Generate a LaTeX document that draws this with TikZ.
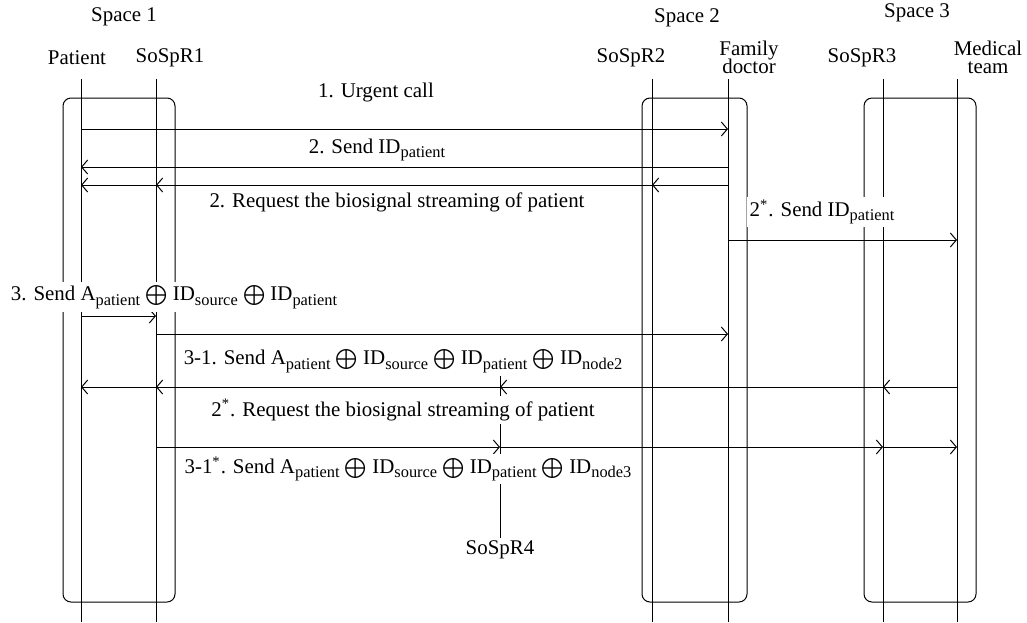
\documentclass[tikz,border=0pt]{standalone}
\usepackage{fontspec}
\setmainfont{Liberation Serif}
\usetikzlibrary{arrows.meta}

\newcommand{\lowtext}[1]{\raisebox{-2.3pt}{\fontsize{8.2}{8.2}\selectfont #1}}
\newcommand{\IDsub}[1]{ID\lowtext{#1}}
\newcommand{\opl}{$\bigoplus$}

\begin{document}
\begin{tikzpicture}[x=0.5pt, y=-0.5pt, line width=0.5pt,
    font=\fontsize{10.45}{12.5}\selectfont,
    spacebox/.style={draw, rounded corners=4pt, minimum width=#1, minimum height=252pt, inner sep=0pt},
    head/.style={align=center, inner sep=1pt},
    msg/.style={-{Straight Barb[length=3pt,width=7pt]}},
    msglabel/.style={fill=white, inner sep=1.5pt}]
    \useasboundingbox (0,0) rectangle (1027,622);

    % the three spaces
    \node[spacebox=56pt] (box1) at (119,350) {};
    \node[spacebox=52.5pt] (box2) at (694.5,350) {};
    \node[spacebox=56pt] (box3) at (920,350) {};
    \node (space1) at (124,17) {Space 1};
    \node (space2) at (687,18) {Space 2};
    \node (space3) at (917,13) {Space 3};

    % participants
    \node[head] (patient) at (77,58) {Patient};
    \node[head] (sospr1) at (170,58) {SoSpR1};
    \node[head] (sospr2) at (631,58) {SoSpR2};
    \node[head] (doctor) at (749,57) {Family\\[-3.5pt]doctor};
    \node[head] (sospr3) at (862,58) {SoSpR3};
    \node[head] (medteam) at (988,57) {Medical\\[-3.5pt]team};
    \node[head] (sospr4) at (500,550) {SoSpR4};

    % lifelines
    \coordinate (P) at (81,79);
    \coordinate (R1) at (156,79);
    \coordinate (R2) at (652,79);
    \coordinate (FD) at (728,79);
    \coordinate (R3) at (883,79);
    \coordinate (MT) at (957,79);
    \coordinate (R4) at (500,373);
    \draw (P) -- (81,622);
    \draw (R1) -- (156,622);
    \draw (R2) -- (652,622);
    \draw (FD) -- (728,622);
    \draw (R3) -- (883,622);
    \draw (MT) -- (957,622);
    \draw (R4) -- (sospr4.north);

    % message rows
    \coordinate (m1) at (0,129);
    \coordinate (m2) at (0,167);
    \coordinate (m3) at (0,185);
    \coordinate (m4) at (0,240);
    \coordinate (m5) at (0,316);
    \coordinate (m6) at (0,334);
    \coordinate (m7) at (0,387);
    \coordinate (m8) at (0,447);

    \draw[msg] (P |- m1) -- (FD |- m1);
    \draw[msg] (FD |- m2) -- (P |- m2);
    \draw[msg] (FD |- m3) -- (R2 |- m3);
    \draw[msg] (R2 |- m3) -- (R1 |- m3);
    \draw[msg] (R1 |- m3) -- (P |- m3);
    \draw[msg] (FD |- m4) -- (MT |- m4);
    \draw[msg] (P |- m5) -- (R1 |- m5);
    \draw[msg] (R1 |- m6) -- (FD |- m6);
    \draw[msg] (MT |- m7) -- (R3 |- m7);
    \draw[msg] (R3 |- m7) -- (R4 |- m7);
    \draw[msg] (R4 |- m7) -- (R1 |- m7);
    \draw[msg] (R1 |- m7) -- (P |- m7);
    \draw[msg] (R1 |- m8) -- (R4 |- m8);
    \draw[msg] (R4 |- m8) -- (R3 |- m8);
    \draw[msg] (R3 |- m8) -- (MT |- m8);

    % message labels
    \node[msglabel] (call) at (376,92) {1. Urgent call};
    \node[msglabel] (sendid) at (377,150) {2. Send \IDsub{patient}};
    \node[msglabel] (request) at (397,202) {2. Request the biosignal streaming of patient};
    \node[msglabel] (sendidstar) at (822,212) {2\textsuperscript{*}. Send \IDsub{patient}};
    \node[msglabel] (sendA) at (174,297) {3. Send A\lowtext{patient} \opl{} \IDsub{source} \opl{} \IDsub{patient}};
    \node[msglabel] (send31) at (403,361) {3-1. Send A\lowtext{patient} \opl{} \IDsub{source} \opl{} \IDsub{patient} \opl{} \IDsub{node2}};
    \node[msglabel] (requeststar) at (403,410) {2\textsuperscript{*}. Request the biosignal streaming of patient};
    \node[msglabel] (send31star) at (408,469) {3-1\textsuperscript{*}. Send A\lowtext{patient} \opl{} \IDsub{source} \opl{} \IDsub{patient} \opl{} \IDsub{node3}};
\end{tikzpicture}
\end{document}
